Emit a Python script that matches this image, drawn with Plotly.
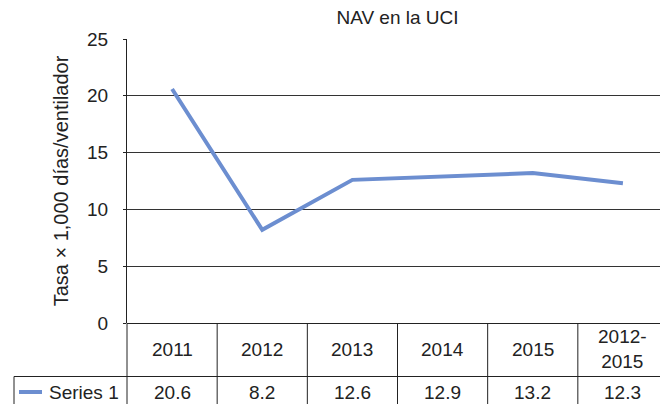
import plotly.graph_objects as go

categories = ["2011", "2012", "2013", "2014", "2015", "2012-2015"]
header_labels = ["2011", "2012", "2013", "2014", "2015", "2012-<br>2015"]
series_name = "Series 1"
values = [20.6, 8.2, 12.6, 12.9, 13.2, 12.3]
y_ticks = [0, 5, 10, 15, 20, 25]

# page has an 8px body margin; work in page pixel coordinates and shift
OFF = 8
W, H = 668 - OFF, 404 - OFF
L = 127 - OFF
T = 39 - OFF
R = 0
B = H - (323 - OFF)
pw, ph = W - L - R, H - T - B


def px_x(p):  # page x pixel -> paper
    return (p - OFF - L) / pw


def px_y(p):  # page y pixel -> paper
    return (H - B - (p - OFF)) / ph


line_color = "#6c8ed0"
ink = "#222222"
font = "Liberation Sans, Arial, sans-serif"

fig = go.Figure()
fig.add_trace(go.Scatter(
    x=list(range(len(categories))), y=values, mode="lines",
    line=dict(color=line_color, width=4), name=series_name,
    showlegend=False, hoverinfo="skip",
))

shapes = []
n = len(categories)
for i in range(0, n):
    shapes.append(dict(type="line", xref="paper", yref="paper",
                       x0=i / n, x1=i / n, y0=0, y1=px_y(406),
                       line=dict(color=ink, width=1)))
shapes.append(dict(type="line", xref="paper", yref="paper",
                   x0=px_x(14), x1=1, y0=px_y(376.5), y1=px_y(376.5),
                   line=dict(color=ink, width=1)))
shapes.append(dict(type="line", xref="paper", yref="paper",
                   x0=px_x(14), x1=px_x(14), y0=px_y(376.5), y1=px_y(406),
                   line=dict(color=ink, width=1)))
shapes.append(dict(type="line", xref="paper", yref="paper",
                   x0=px_x(19), x1=px_x(42), y0=px_y(392), y1=px_y(392),
                   line=dict(color=line_color, width=4)))

annotations = []
tfont = dict(size=19, color=ink, family=font)
for i, lab in enumerate(header_labels):
    annotations.append(dict(x=i, xref="x", y=px_y(349), yref="paper",
                            text=lab, showarrow=False, xanchor="center",
                            yanchor="middle", font=tfont))
for i, v in enumerate(values):
    annotations.append(dict(x=i, xref="x", y=px_y(393), yref="paper",
                            text=f"{v:.1f}", showarrow=False, xanchor="center",
                            yanchor="middle", font=tfont))
annotations.append(dict(x=px_x(47), xref="paper", y=px_y(393), yref="paper",
                        text=series_name, showarrow=False, xanchor="left",
                        yanchor="middle", font=tfont))

fig.update_layout(
    width=W, height=H,
    margin=dict(l=L, r=R, t=T, b=B),
    paper_bgcolor="white", plot_bgcolor="white",
    title=dict(text="NAV en la UCI", x=(L + pw / 2) / W, xanchor="center",
               y=1 - (17 - OFF) / H, yanchor="middle",
               font=dict(size=19, color=ink, family=font)),
    xaxis=dict(range=[-0.5, n - 0.5], showticklabels=False, showgrid=False,
               zeroline=False, showline=False, ticks=""),
    yaxis=dict(range=[0, 25], tickvals=y_ticks, showgrid=True,
               gridcolor="#333", gridwidth=1, zeroline=True,
               zerolinecolor=ink, zerolinewidth=1,
               showline=True, linecolor=ink, linewidth=1,
               ticks="outside", ticklen=3, tickcolor=ink,
               ticklabelstandoff=11,
               tickfont=dict(size=19, color=ink, family=font),
               title=dict(text="Tasa × 1,000 días/ventilador", standoff=13,
                          font=dict(size=20, color=ink, family=font))),
    shapes=shapes, annotations=annotations,
)

fig.write_html("out.html")
